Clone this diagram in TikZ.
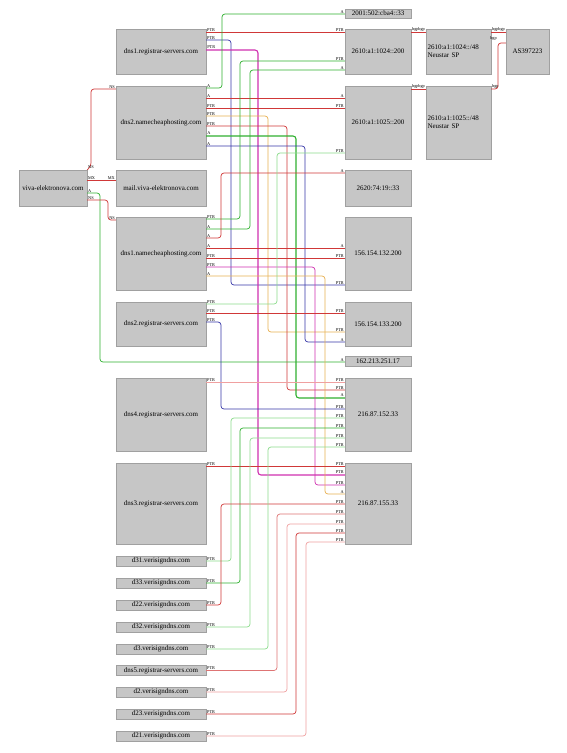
\documentclass[tikz,border=0pt]{standalone}
\usepackage{fontspec}
\setmainfont{Liberation Serif}
\usetikzlibrary{shadows}
\definecolor{ered}{HTML}{D03838}
\definecolor{epink}{HTML}{F0A0A0}
\definecolor{egreen}{HTML}{30B030}
\definecolor{elgreen}{HTML}{8CDC8C}
\definecolor{eblue}{HTML}{3838A8}
\definecolor{emag}{HTML}{D030B0}
\definecolor{eorange}{HTML}{E8B050}
\definecolor{boxfill}{HTML}{C6C6C6}
\definecolor{boxline}{HTML}{A0A0A0}
\definecolor{shadowc}{HTML}{8A8A8A}
\begin{document}
\begin{tikzpicture}[x=1pt,y=-1pt,
  box/.style={draw=boxline, fill=boxfill, inner sep=0pt, line width=0.4pt,
    font=\fontsize{7}{8}\selectfont,
    drop shadow={shadow xshift=0.9pt, shadow yshift=-0.9pt, fill=shadowc, opacity=1}},
  sl/.style={font=\fontsize{4.3}{4.3}\selectfont, text=black, anchor=south west, inner sep=0.6pt},
  tl/.style={font=\fontsize{4.3}{4.3}\selectfont, text=black, anchor=south east, inner sep=0.6pt},
  ed/.style={line width=0.7pt, rounded corners=3pt},
  thk/.style={line width=1.1pt}]
\useasboundingbox[fill=white] (0,0) rectangle (566,753);

% ---------- nodes ----------
\node[box, minimum width=66pt, minimum height=9pt] (ipcba) at (378,13.5) {2001:502:cba4::33};
\node[box, minimum width=90pt, minimum height=45pt] (dns1reg) at (161,51.5) {dns1.registrar-servers.com};
\node[box, minimum width=90pt, minimum height=73pt] (dns2nc) at (161,122.5) {dns2.namecheaphosting.com};
\node[box, minimum width=68pt, minimum height=36pt] (viva) at (53,188) {viva-elektronova.com};
\node[box, minimum width=90pt, minimum height=36pt] (mail) at (161,188) {mail.viva-elektronova.com};
\node[box, minimum width=90pt, minimum height=73pt] (dns1nc) at (161,253.5) {dns1.namecheaphosting.com};
\node[box, minimum width=90pt, minimum height=44pt] (dns2reg) at (161,324) {dns2.registrar-servers.com};
\node[box, minimum width=66pt, minimum height=10pt] (ip162) at (378,361) {162.213.251.17};
\node[box, minimum width=90pt, minimum height=73pt] (dns4reg) at (161,414.5) {dns4.registrar-servers.com};
\node[box, minimum width=90pt, minimum height=81pt] (dns3reg) at (161,503.5) {dns3.registrar-servers.com};
\node[box, minimum width=66pt, minimum height=73pt] (ip152) at (378,414.5) {216.87.152.33};
\node[box, minimum width=66pt, minimum height=81pt] (ip155) at (378,503.5) {216.87.155.33};
\node[box, minimum width=66pt, minimum height=45pt] (ip1024) at (378,51.5) {2610:a1:1024::200};
\node[box, minimum width=66pt, minimum height=73pt] (ip1025) at (378,122.5) {2610:a1:1025::200};
\node[box, minimum width=65pt, minimum height=45pt, text width=62pt, align=left] (net1024) at (458.5,51.5) {2610:a1:1024::/48\\Neustar SP};
\node[box, minimum width=65pt, minimum height=73pt, text width=62pt, align=left] (net1025) at (458.5,122.5) {2610:a1:1025::/48\\Neustar SP};
\node[box, minimum width=43pt, minimum height=45pt] (as) at (527.5,51.5) {AS397223};
\node[box, minimum width=66pt, minimum height=36pt] (ip2620) at (378,188) {2620:74:19::33};
\node[box, minimum width=66pt, minimum height=73pt] (ip132) at (378,253.5) {156.154.132.200};
\node[box, minimum width=66pt, minimum height=44pt] (ip133) at (378,324) {156.154.133.200};
\node[box, minimum width=90pt, minimum height=10pt] (d31) at (161,561) {d31.verisigndns.com};
\node[box, minimum width=90pt, minimum height=10pt] (d33) at (161,583) {d33.verisigndns.com};
\node[box, minimum width=90pt, minimum height=10pt] (d22) at (161,605) {d22.verisigndns.com};
\node[box, minimum width=90pt, minimum height=10pt] (d32) at (161,627) {d32.verisigndns.com};
\node[box, minimum width=90pt, minimum height=10pt] (d3) at (161,649) {d3.verisigndns.com};
\node[box, minimum width=90pt, minimum height=10pt] (dns5reg) at (161,670.5) {dns5.registrar-servers.com};
\node[box, minimum width=90pt, minimum height=10pt] (d2) at (161,692) {d2.verisigndns.com};
\node[box, minimum width=90pt, minimum height=10pt] (d23) at (161,714) {d23.verisigndns.com};
\node[box, minimum width=90pt, minimum height=10pt] (d21) at (161,736) {d21.verisigndns.com};

% ---------- connectors ----------
% dns1.registrar-servers.com
\draw[ed, ered] (dns1reg.east|-0,32) node[sl]{PTR} -- (ip1024.west|-0,32) node[tl]{PTR};
\draw[ed, eblue] (dns1reg.east|-0,40) node[sl]{PTR} -| (231,285) -- (ip132.west|-0,285) node[tl]{PTR};
\draw[ed, thk, emag] (dns1reg.east|-0,50) node[sl]{PTR} -| (258,475) -- (ip155.west|-0,475) node[tl]{PTR};
% dns2.namecheaphosting.com
\draw[ed, egreen] (dns2nc.east|-0,88) node[sl]{A} -| (222,14) -- (ipcba.west|-0,14) node[tl]{A};
\draw[ed, ered] (dns2nc.east|-0,98) node[sl]{A} -- (ip1025.west|-0,98) node[tl]{A};
\draw[ed, ered] (dns2nc.east|-0,108) node[sl]{PTR} -- (ip1025.west|-0,108) node[tl]{PTR};
\draw[ed, eorange] (dns2nc.east|-0,116) node[sl]{PTR} -| (268,332) -- (ip133.west|-0,332) node[tl]{PTR};
\draw[ed, ered] (dns2nc.east|-0,126) node[sl]{PTR} -| (287,390) -- (ip152.west|-0,390) node[tl]{PTR};
\draw[ed, thk, egreen] (dns2nc.east|-0,136) node[sl]{A} -| (296,398) -- (ip152.west|-0,398) node[tl]{A};
\draw[ed, eblue] (dns2nc.east|-0,146) node[sl]{A} -| (305,342) -- (ip133.west|-0,342) node[tl]{A};
% viva-elektronova.com
\draw[ed, ered] (viva.north east) node[sl]{NS} -- (91,166) |- (dns2nc.west|-0,89) node[tl]{NS};
\draw[ed, ered] (viva.east|-0,180) node[sl]{MX} -- (mail.west|-0,180) node[tl]{MX};
\draw[ed, egreen] (viva.east|-0,193) node[sl]{A} -| (100,362) -- (ip162.west|-0,362) node[tl]{A};
\draw[ed, ered] (viva.east|-0,200) node[sl]{NS} -| (108,220) -- (dns1nc.west|-0,220) node[tl]{NS};
% dns1.namecheaphosting.com
\draw[ed, egreen] (dns1nc.east|-0,219) node[sl]{PTR} -| (240,61) -- (ip1024.west|-0,61) node[tl]{PTR};
\draw[ed, egreen] (dns1nc.east|-0,229) node[sl]{A} -| (250,70) -- (ip1024.west|-0,70) node[tl]{A};
\draw[ed, ered] (dns1nc.east|-0,238) node[sl]{A} -| (221,173) -- (ip2620.west|-0,173) node[tl]{A};
\draw[ed, ered] (dns1nc.east|-0,248) node[sl]{A} -- (ip132.west|-0,248) node[tl]{A};
\draw[ed, ered] (dns1nc.east|-0,258) node[sl]{PTR} -- (ip132.west|-0,258) node[tl]{PTR};
\draw[ed, emag] (dns1nc.east|-0,267) node[sl]{PTR} -| (315,485) -- (ip155.west|-0,485) node[tl]{PTR};
\draw[ed, eorange] (dns1nc.east|-0,276) node[sl]{A} -| (325,494) -- (ip155.west|-0,494) node[tl]{A};
% dns2.registrar-servers.com
\draw[ed, elgreen] (dns2reg.east|-0,304) node[sl]{PTR} -| (277,153) -- (ip1025.west|-0,153) node[tl]{PTR};
\draw[ed, ered] (dns2reg.east|-0,313) node[sl]{PTR} -- (ip133.west|-0,313) node[tl]{PTR};
\draw[ed, eblue] (dns2reg.east|-0,322) node[sl]{PTR} -| (221,409) -- (ip152.west|-0,409) node[tl]{PTR};
% dns4 / dns3
\draw[ed, epink] (dns4reg.east|-0,382) node[sl]{PTR} -- (ip152.west|-0,382) node[tl]{PTR};
\draw[ed, ered] (dns3reg.east|-0,466) node[sl]{PTR} -- (ip155.west|-0,466) node[tl]{PTR};
% bottom servers
\draw[ed, elgreen] (d31.east) node[sl]{PTR} -| (231,418) -- (ip152.west|-0,418) node[tl]{PTR};
\draw[ed, egreen] (d33.east) node[sl]{PTR} -| (240,428) -- (ip152.west|-0,428) node[tl]{PTR};
\draw[ed, ered] (d22.east) node[sl]{PTR} -| (221,504) -- (ip155.west|-0,504) node[tl]{PTR};
\draw[ed, elgreen] (d32.east) node[sl]{PTR} -| (250,438) -- (ip152.west|-0,438) node[tl]{PTR};
\draw[ed, elgreen] (d3.east) node[sl]{PTR} -| (268,447) -- (ip152.west|-0,447) node[tl]{PTR};
\draw[ed, ered!70] (dns5reg.east) node[sl]{PTR} -| (277,514) -- (ip155.west|-0,514) node[tl]{PTR};
\draw[ed, epink] (d2.east) node[sl]{PTR} -| (287,524) -- (ip155.west|-0,524) node[tl]{PTR};
\draw[ed, ered] (d23.east) node[sl]{PTR} -| (296,533) -- (ip155.west|-0,533) node[tl]{PTR};
\draw[ed, epink] (d21.east) node[sl]{PTR} -| (306,542) -- (ip155.west|-0,542) node[tl]{PTR};
% bgp
\draw[ed, ered] (ip1024.east|-0,32) node[sl]{bgp} -- (net1024.west|-0,32) node[tl]{bgp};
\draw[ed, ered] (ip1025.east|-0,89) node[sl]{bgp} -- (net1025.west|-0,89) node[tl]{bgp};
\draw[ed, ered] (net1024.east|-0,32) node[sl]{bgp} -- (as.west|-0,32) node[tl]{bgp};
\draw[ed, ered] (net1025.east|-0,89) node[sl]{bgp} -| (498,43) -- (as.west|-0,43);
\node[tl] (bgplab) at (497.5,41) {bgp};
\end{tikzpicture}
\end{document}
